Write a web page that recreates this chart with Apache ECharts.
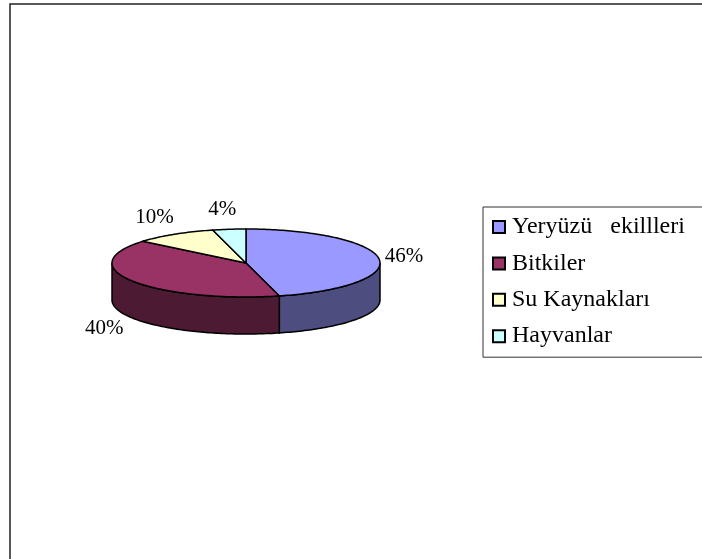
<!DOCTYPE html>
<html>
<head>
<meta charset="utf-8">
<script src="https://cdn.jsdelivr.net/npm/echarts@6/dist/echarts.min.js"></script>
<style>
  html, body { margin: 0; padding: 0; background: #fff; }
  #chart { width: 702px; height: 559px; }
</style>
</head>
<body>
<div id="chart"></div>
<script>
// slice data
const categories = ['Yeryüzü   ekillleri', 'Bitkiler', 'Su Kaynakları', 'Hayvanlar']
const values = [46, 40, 10, 4]
const topColors = ['#9999FF', '#993366', '#FFFFCC', '#CCFFFF']
const sideColors = ['#4D4D80', '#4D1A33', '#80805F', '#668080']

const total = values.reduce((s, v) => s + v, 0)

// 3D pie geometry
const cx = 246, cy = 263, rx = 134, ry = 34, depth = 37
const labelGap = 10
const labelFont = '21px "Liberation Serif"'

const measureCtx = document.createElement('canvas').getContext('2d')
measureCtx.font = labelFont

const pt = (a, dy) => [cx + rx * Math.sin(a), cy - ry * Math.cos(a) + dy]

const arcPoints = (from, to, dy) => {
  const pts = []
  const n = Math.max(2, Math.ceil((to - from) / 0.02))
  for (let k = 0; k <= n; k++) {
    pts.push(pt(from + (to - from) * k / n, dy))
  }
  return pts
}

const renderSlice = (params, api) => {
  const i = params.seriesIndex
  const before = values.slice(0, i).reduce((s, v) => s + v, 0)
  const a0 = before / total * Math.PI * 2
  const a1 = (before + values[i]) / total * Math.PI * 2
  const children = []

  // front wall (only the lower half of the ellipse is visible)
  const lo = Math.max(a0, Math.PI / 2)
  const hi = Math.min(a1, Math.PI * 3 / 2)
  if (lo < hi) {
    const wall = arcPoints(lo, hi, 0).concat(arcPoints(lo, hi, depth).reverse())
    children.push({
      type: 'polygon',
      shape: { points: wall },
      style: { fill: sideColors[i], stroke: '#000', lineWidth: 1.5 }
    })
  }

  // top face
  const top = [[cx, cy]].concat(arcPoints(a0, a1, 0))
  children.push({
    type: 'polygon',
    shape: { points: top },
    style: { fill: topColors[i], stroke: '#000', lineWidth: 1.5, lineJoin: 'round' }
  })

  // percent label, placed just outside the rim at the slice middle
  const text = Math.round(values[i] / total * 100) + '%'
  const halfW = measureCtx.measureText(text).width / 2
  const halfH = 10
  const mid = (a0 + a1) / 2
  const s = Math.sin(mid), c = Math.cos(mid)
  const lx = cx + (rx + labelGap) * s + halfW * s - 4
  const ly = cy - (ry + labelGap) * c - halfH * c + (c < 0 ? depth : 0)
  children.push({
    type: 'text',
    x: lx,
    y: ly,
    style: {
      text,
      fill: '#000',
      font: labelFont,
      align: 'center',
      verticalAlign: 'middle'
    }
  })

  return { type: 'group', children }
}

const chart = echarts.init(document.getElementById('chart'))

chart.setOption({
  animation: false,
  graphic: [{
    type: 'rect',
    left: 7.5,
    top: 1.5,
    shape: { width: 760, height: 620 },
    style: { fill: 'none', stroke: '#222', lineWidth: 1.5 },
    silent: true
  }],
  legend: {
    orient: 'vertical',
    left: 483,
    top: 207,
    data: categories,
    icon: 'rect',
    itemWidth: 12,
    itemHeight: 12,
    itemGap: 12.4,
    selectedMode: false,
    itemStyle: { borderColor: '#000', borderWidth: 2 },
    textStyle: {
      fontFamily: 'Liberation Serif',
      fontSize: 24,
      color: '#000',
      lineHeight: 24,
      padding: [0, 0, 0, 2]
    },
    borderColor: '#333',
    borderWidth: 1,
    padding: [8, 40, 9, 9]
  },
  series: categories.map((name, i) => ({
    name,
    type: 'custom',
    coordinateSystem: 'none',
    silent: true,
    itemStyle: { color: topColors[i] },
    renderItem: renderSlice,
    data: [values[i]]
  }))
})
</script>
</body>
</html>
